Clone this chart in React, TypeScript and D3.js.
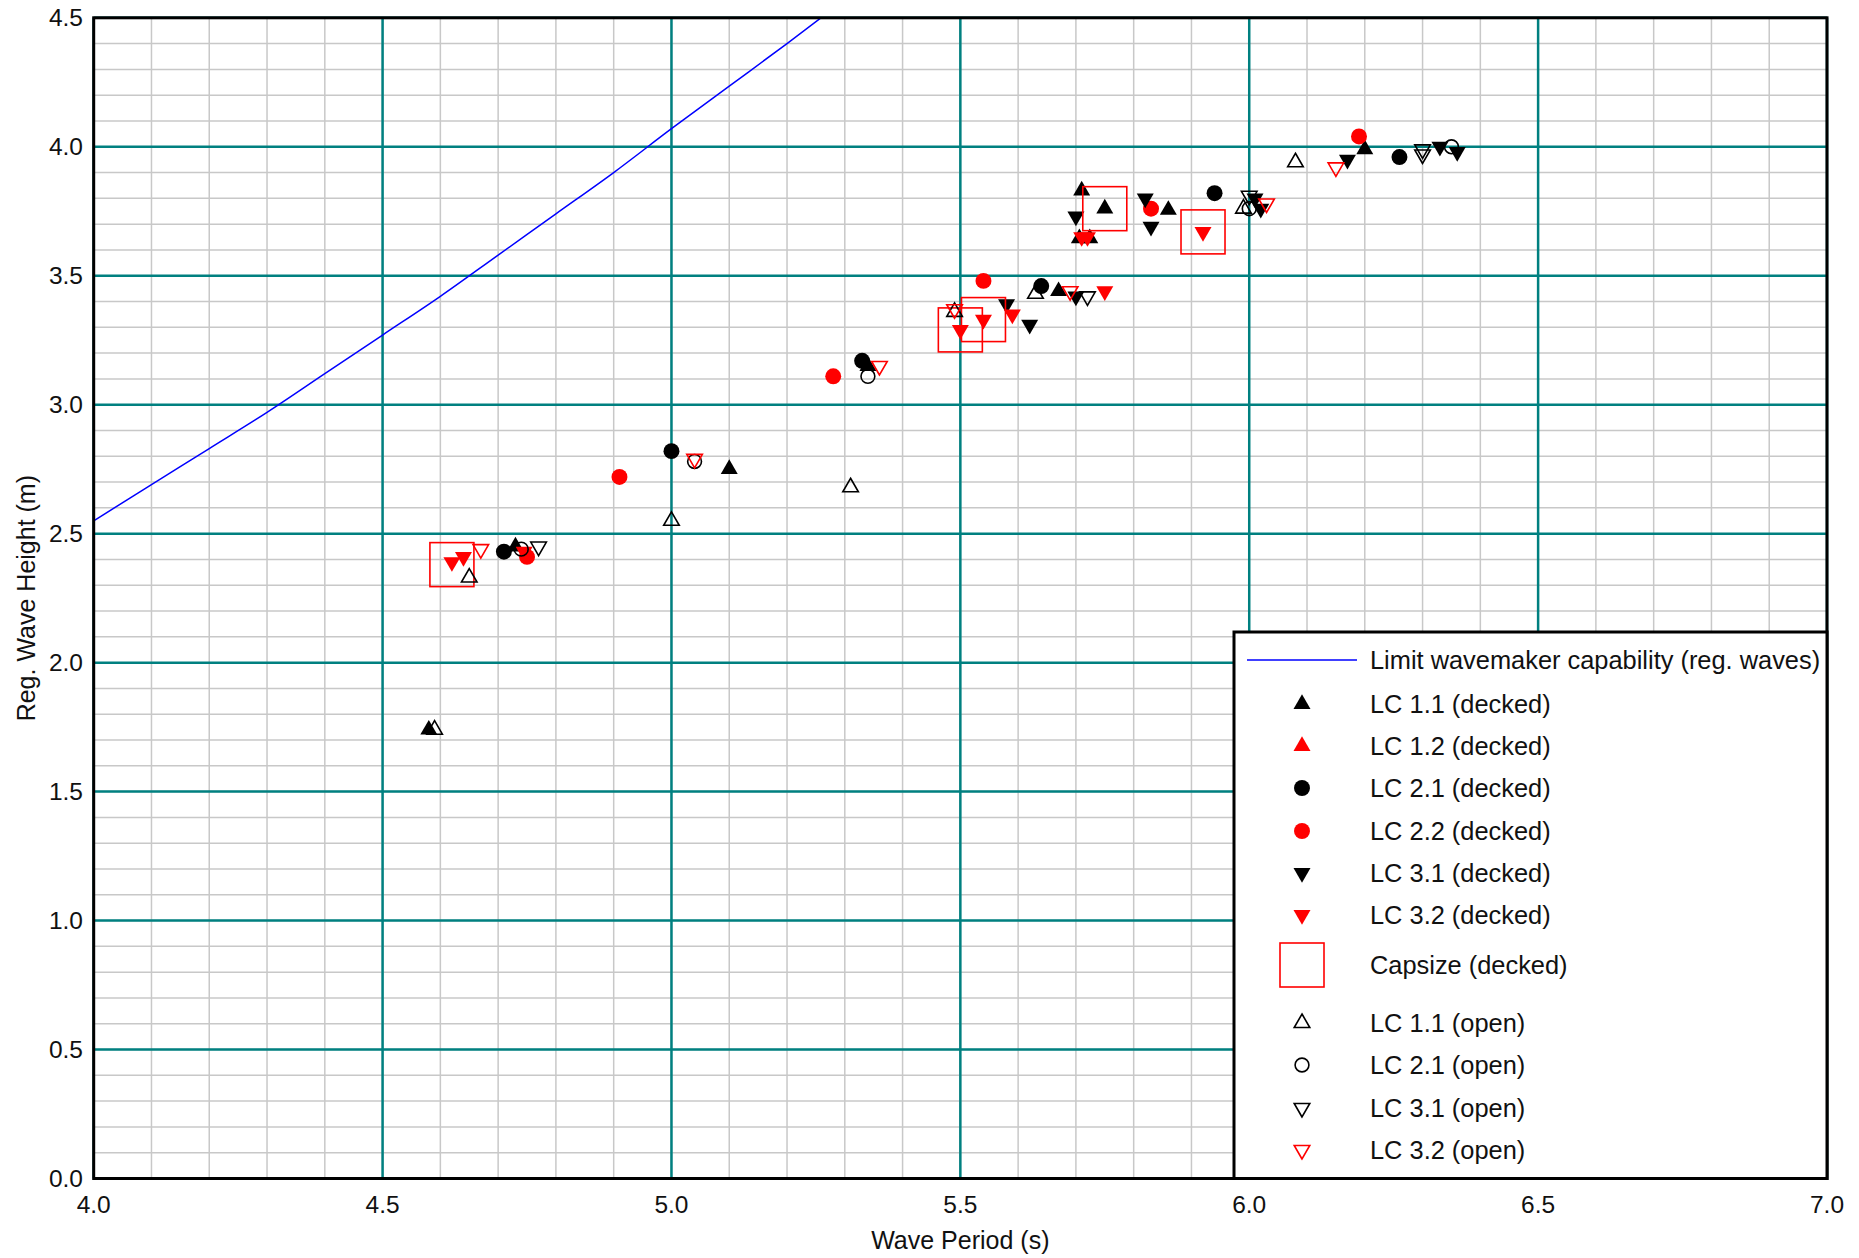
import React from "react";
import * as d3 from "d3";

type Pt = [number, number];

// limit wavemaker capability curve (period, height)
const limitCurve: Pt[] = [
  [4.0, 2.55], [4.1, 2.69], [4.2, 2.83], [4.3, 2.97], [4.4, 3.12], [4.5, 3.27],
  [4.6, 3.42], [4.7, 3.58], [4.8, 3.74], [4.9, 3.9], [5.0, 4.07], [5.1, 4.235],
  [5.2, 4.4], [5.3, 4.57],
];

const lc11Decked: Pt[] = [
  [4.58, 1.74], [4.73, 2.45], [5.1, 2.75], [5.34, 3.15], [5.67, 3.44], [5.71, 3.83],
  [5.706, 3.645], [5.724, 3.645], [5.75, 3.76], [5.86, 3.755], [6.2, 3.99],
];
const lc12Decked: Pt[] = [];
const lc21Decked: Pt[] = [
  [4.71, 2.43], [5.0, 2.82], [5.33, 3.17], [5.64, 3.46], [5.94, 3.82], [6.26, 3.96],
];
const lc22Decked: Pt[] = [
  [4.75, 2.41], [4.91, 2.72], [5.28, 3.11], [5.54, 3.48], [5.83, 3.76], [6.19, 4.04],
];
const lc31Decked: Pt[] = [
  [5.58, 3.39], [5.62, 3.31], [5.7, 3.42], [5.7, 3.73], [5.82, 3.8], [5.83, 3.69],
  [6.01, 3.8], [6.02, 3.76], [6.17, 3.95], [6.33, 4.0], [6.36, 3.98],
];
const lc32Decked: Pt[] = [
  [4.62, 2.39], [4.64, 2.41], [4.745, 2.43], [5.5, 3.29], [5.54, 3.33], [5.59, 3.35],
  [5.71, 3.65], [5.72, 3.65], [5.75, 3.44], [5.92, 3.67],
];
const capsizeDecked: Pt[] = [
  [4.62, 2.38], [5.5, 3.29], [5.54, 3.33], [5.75, 3.76], [5.92, 3.67],
];
const lc11Open: Pt[] = [
  [4.59, 1.74], [4.65, 2.33], [5.0, 2.55], [5.31, 2.68], [5.49, 3.36], [5.63, 3.43],
  [5.99, 3.76], [6.08, 3.94],
];
const lc21Open: Pt[] = [
  [4.74, 2.44], [5.04, 2.78], [5.34, 3.11], [6.0, 3.76], [6.35, 4.0],
];
const lc31Open: Pt[] = [
  [4.77, 2.45], [5.72, 3.42], [6.0, 3.81], [6.3, 3.99], [6.3, 3.97],
];
const lc32Open: Pt[] = [
  [4.67, 2.44], [5.04, 2.79], [5.36, 3.15], [5.49, 3.37], [5.69, 3.44], [6.03, 3.78],
  [6.15, 3.92],
];

const xTicks = [4.0, 4.5, 5.0, 5.5, 6.0, 6.5, 7.0];
const yTicks = [0.0, 0.5, 1.0, 1.5, 2.0, 2.5, 3.0, 3.5, 4.0, 4.5];

const W = 1859;
const H = 1258;
const left = 93.7, right = 1827, top = 17.8, bottom = 1178.5;
const FONT = "'Liberation Sans', Arial, Helvetica, sans-serif";
const RED = "#ff0000";
const TEAL = "#008080";

type Kind = "up" | "down" | "circle";
const series: { name: string; data: Pt[]; kind: Kind; color: string; filled: boolean }[] = [
  { name: "LC 1.1 (decked)", data: lc11Decked, kind: "up", color: "#000", filled: true },
  { name: "LC 1.2 (decked)", data: lc12Decked, kind: "up", color: RED, filled: true },
  { name: "LC 2.1 (decked)", data: lc21Decked, kind: "circle", color: "#000", filled: true },
  { name: "LC 2.2 (decked)", data: lc22Decked, kind: "circle", color: RED, filled: true },
  { name: "LC 3.1 (decked)", data: lc31Decked, kind: "down", color: "#000", filled: true },
  { name: "LC 3.2 (decked)", data: lc32Decked, kind: "down", color: RED, filled: true },
  { name: "LC 1.1 (open)", data: lc11Open, kind: "up", color: "#000", filled: false },
  { name: "LC 2.1 (open)", data: lc21Open, kind: "circle", color: "#000", filled: false },
  { name: "LC 3.1 (open)", data: lc31Open, kind: "down", color: "#000", filled: false },
  { name: "LC 3.2 (open)", data: lc32Open, kind: "down", color: RED, filled: false },
];

const triPath = d3.symbol().type(d3.symbolTriangle).size(125)()!;
const triOpenPath = d3.symbol().type(d3.symbolTriangle).size(105)()!;
const circPath = d3.symbol().type(d3.symbolCircle).size(200)()!;
const circOpenPath = d3.symbol().type(d3.symbolCircle).size(150)()!;

function Marker({ x, y, kind, color, filled }: { x: number; y: number; kind: Kind; color: string; filled: boolean }) {
  const d = kind === "circle" ? (filled ? circPath : circOpenPath) : filled ? triPath : triOpenPath;
  const rot = kind === "down" ? 180 : 0;
  return (
    <path
      d={d}
      transform={`translate(${x},${y}) rotate(${rot})`}
      fill={filled ? color : "none"}
      stroke={color}
      strokeWidth={filled ? 0 : 1.6}
    />
  );
}

export default function App() {
  const x = d3.scaleLinear().domain([4, 7]).range([left, right]);
  const y = d3.scaleLinear().domain([0, 4.5]).range([bottom, top]);

  const minorX = d3.range(40, 71).map((v) => v / 10);
  const minorY = d3.range(0, 46).map((v) => v / 10);

  const line = d3
    .line<Pt>()
    .x((d) => x(d[0]))
    .y((d) => y(d[1]))
    .curve(d3.curveMonotoneX);

  const capSize = 44;

  // legend layout
  const lgLeft = 1234, lgTop = 632;
  const symX = 1302, textX = 1370;
  const legendRows: { y: number; key: string }[] = [
    { y: 660, key: "limit" },
    { y: 704, key: "LC 1.1 (decked)" },
    { y: 746, key: "LC 1.2 (decked)" },
    { y: 788, key: "LC 2.1 (decked)" },
    { y: 831, key: "LC 2.2 (decked)" },
    { y: 873, key: "LC 3.1 (decked)" },
    { y: 915, key: "LC 3.2 (decked)" },
    { y: 965, key: "capsize" },
    { y: 1023, key: "LC 1.1 (open)" },
    { y: 1065, key: "LC 2.1 (open)" },
    { y: 1108, key: "LC 3.1 (open)" },
    { y: 1150, key: "LC 3.2 (open)" },
  ];

  return (
    <svg width={W} height={H} style={{ position: "absolute", left: 0, top: 0, background: "#fff" }} fontFamily={FONT}>
      <defs>
        <clipPath id="plot">
          <rect x={left} y={top} width={right - left} height={bottom - top} />
        </clipPath>
      </defs>
      <rect x={0} y={0} width={W} height={H} fill="#fff" />

      {/* minor grid */}
      {minorX.map((v) => (
        <line key={"mx" + v} x1={x(v)} x2={x(v)} y1={top} y2={bottom} stroke="#c8c8c8" strokeWidth={1.5} />
      ))}
      {minorY.map((v) => (
        <line key={"my" + v} x1={left} x2={right} y1={y(v)} y2={y(v)} stroke="#c8c8c8" strokeWidth={1.5} />
      ))}
      {/* major grid */}
      {xTicks.map((v) => (
        <line key={"gx" + v} x1={x(v)} x2={x(v)} y1={top} y2={bottom} stroke={TEAL} strokeWidth={2.5} />
      ))}
      {yTicks.map((v) => (
        <line key={"gy" + v} x1={left} x2={right} y1={y(v)} y2={y(v)} stroke={TEAL} strokeWidth={2.5} />
      ))}

      <g clipPath="url(#plot)">
        <path d={line(limitCurve)!} fill="none" stroke="#0000ff" strokeWidth={1.5} />
        {series.slice(0, 6).map((s) =>
          s.data.map((p, i) => <Marker key={s.name + i} x={x(p[0])} y={y(p[1])} kind={s.kind} color={s.color} filled={s.filled} />)
        )}
        {capsizeDecked.map((p, i) => (
          <rect
            key={"cap" + i}
            x={x(p[0]) - capSize / 2}
            y={y(p[1]) - capSize / 2}
            width={capSize}
            height={capSize}
            fill="none"
            stroke={RED}
            strokeWidth={1.6}
          />
        ))}
        {series.slice(6).map((s) =>
          s.data.map((p, i) => <Marker key={s.name + i} x={x(p[0])} y={y(p[1])} kind={s.kind} color={s.color} filled={s.filled} />)
        )}
      </g>

      {/* frame */}
      <rect x={left} y={top} width={right - left} height={bottom - top} fill="none" stroke="#000" strokeWidth={3} />

      {/* tick labels */}
      {xTicks.map((v) => (
        <text key={"xt" + v} x={x(v)} y={1213} textAnchor="middle" fontSize={24.5} fill="#111">
          {v.toFixed(1)}
        </text>
      ))}
      {yTicks.map((v) => (
        <text key={"yt" + v} x={83} y={y(v) + 8.5} textAnchor="end" fontSize={24.5} fill="#111">
          {v.toFixed(1)}
        </text>
      ))}

      {/* axis titles */}
      <text x={(left + right) / 2} y={1249} textAnchor="middle" fontSize={25} fill="#111">
        Wave Period (s)
      </text>
      <text transform={`translate(35,${(top + bottom) / 2}) rotate(-90)`} textAnchor="middle" fontSize={25} fill="#111">
        Reg. Wave Height (m)
      </text>

      {/* legend */}
      <rect x={lgLeft} y={lgTop} width={right - lgLeft} height={bottom - lgTop} fill="#fff" stroke="#000" strokeWidth={3} />
      {legendRows.map((r) => {
        if (r.key === "limit") {
          return (
            <g key={r.key}>
              <line x1={1247} x2={1357} y1={r.y} y2={r.y} stroke="#0000ff" strokeWidth={1.5} />
              <text x={textX} y={r.y + 9} fontSize={25.4} fill="#111">
                Limit wavemaker capability (reg. waves)
              </text>
            </g>
          );
        }
        if (r.key === "capsize") {
          return (
            <g key={r.key}>
              <rect x={symX - 22} y={r.y - 22} width={44} height={44} fill="none" stroke={RED} strokeWidth={1.6} />
              <text x={textX} y={r.y + 9} fontSize={25.4} fill="#111">
                Capsize (decked)
              </text>
            </g>
          );
        }
        const s = series.find((d) => d.name === r.key)!;
        return (
          <g key={r.key}>
            <Marker x={symX} y={r.y} kind={s.kind} color={s.color} filled={s.filled} />
            <text x={textX} y={r.y + 9} fontSize={25.4} fill="#111">
              {s.name}
            </text>
          </g>
        );
      })}
    </svg>
  );
}
